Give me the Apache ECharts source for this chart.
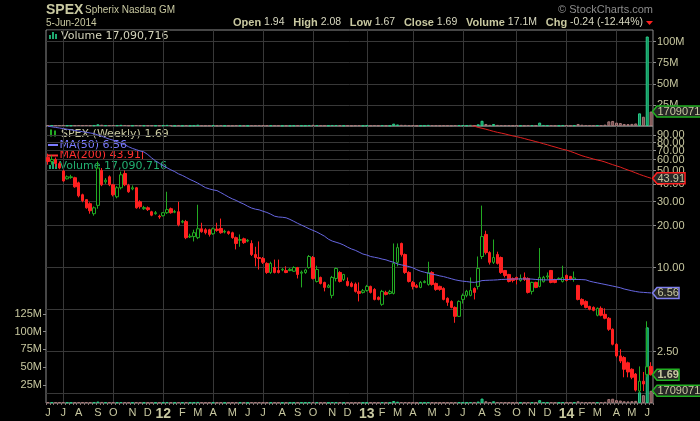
<!DOCTYPE html>
<html><head><meta charset="utf-8">
<script src="https://cdn.jsdelivr.net/npm/echarts@6/dist/echarts.min.js"></script>
<style>html,body{margin:0;padding:0;background:#000;}#c{width:700px;height:421px;}</style>
</head><body><div id="c"></div>
<script>
// ---------- data ----------
const firstWeekMonday = '2011-06-06';
const weekCount = 158;
const opens = [62,58,60,56,49.5,43.5,44.5,44.3,40.7,33.4,
30.8,28.8,24.4,28,50,41.4,45,39.4,32.3,37.5,
47.5,39,36.8,37.5,29.7,26.5,26.9,25.2,24.4,23.4,
23.6,24.8,26.5,25,25.2,21.2,21.4,16.6,16.7,16.4,
19,18.7,18.7,17.5,18.9,19.1,18,18.1,17.8,16.4,
15.7,16.1,15.5,14.9,12.4,11.8,11.6,10.7,9.21,10,
9.52,9.6,9.5,9.5,9.4,10,9.1,9.2,10,11.8,
7.94,8.48,7.81,7.2,6.3,8.34,9.21,8.2,7.94,7.68,
7.6,6.73,6.6,6.84,7.31,6.95,6.1,5.43,6.62,6.5,
6.51,10.9,14.9,12.4,9.21,7.81,7.4,7.19,7.8,7.55,
9.21,7.68,7.31,7.07,6.0,5.7,5.16,4.45,5.89,6.3,
6.3,7.07,7.31,12,17.3,12.8,10.9,12.4,11.8,9.52,
8.91,8.34,8.48,8.07,8.48,8.34,6.73,7.81,7.31,7.9,
8.55,9.52,8.2,8.2,7.94,8.77,8.62,8.2,7.43,5.89,
5.7,5.25,5.16,4.53,5.08,4.6,4.31,3.59,2.80,2.31,
2.25,2.06,1.85,1.71,1.29,1.52,1.70,1.94];
const highs = [66,64,62,58,50.5,46,46.5,45,41.5,34,
31,29.5,27.5,58,52,44,46,40,38.5,49,
50,40,39,38,30.5,27.8,27.5,25.6,25.5,24,
25,35.1,27,26,29.7,22,22,17.5,18.7,28.3,
21,19.2,19,19.4,21,22.5,18.7,18.4,18.1,16.7,
17.3,16.4,16,15.7,14.1,15.4,11.9,10.9,11,11.4,
11.4,9.9,10.2,9.9,10.2,10.1,9.5,9.8,12.3,12.1,
10.3,8.6,7.9,7.6,8.7,10,9.4,9.0,8.48,7.9,
7.8,7.81,7.0,7.5,7.4,7.1,6.2,6.9,6.8,6.9,
14.9,14.9,15.1,12.6,9.4,8.0,7.6,8.0,8.1,11,
9.4,7.8,7.4,7.2,6.1,5.8,5.25,5.8,6.5,6.9,
8.48,7.19,12,27.9,18.4,13.1,15.9,13,12,9.6,
9.0,8.48,8.6,8.91,9.21,8.5,7.9,7.9,13.8,8.7,
9.21,9.6,8.3,8.5,10.3,8.91,8.7,9.36,7.5,6.0,
5.8,5.3,5.25,5.16,5.25,5.08,4.4,3.65,2.85,2.58,
2.3,2.1,1.88,1.74,1.94,1.77,4.1,2.08];
const lows = [55,55,53,51,41.5,43,43.5,37.5,32,29.5,
26.5,24.4,23.6,26.5,38.5,40,38.5,32.5,31.5,36.5,
38.5,34.5,36,26.5,26.5,26,25.5,23.4,24,22.4,
23.3,24.3,24.4,24.6,19.8,20.8,16,16.3,15.4,16,
17.8,17.3,16.7,17.2,18.1,17.5,17.6,17.2,16.1,13.5,
14.1,14.8,15.2,12.1,10.2,9.67,10.6,9.0,9.0,9.06,
9.06,9.4,9.1,9.4,9.3,8.34,7.19,9.0,9.8,8.2,
7.8,7.55,6.73,7.1,6.0,7.94,7.8,8.0,7.3,7.2,
6.6,5.7,6.5,6.7,6.5,5.8,5.8,5.3,6.3,6.4,
6.4,10.2,12,9.0,7.8,6.95,7.1,7.1,7.7,7.4,
7.4,6.8,6.8,5.8,5.3,5.08,4.0,4.4,5.5,6.1,
6.2,5.89,6.95,11.5,12.4,10.5,10.6,10.5,9.0,8.48,
7.81,7.81,7.55,7.9,8.0,6.5,6.4,7.1,7.2,7.8,
8.2,7.7,7.7,8.1,7.8,7.94,8.1,7.9,5.8,5.3,
5.08,4.92,4.84,4.45,4.45,4.24,3.5,2.75,2.25,2.05,
1.62,1.62,1.57,1.28,1.26,1.29,1.62,1.67];
const closes = [58,60,56,52,42,45,45,38.1,32.8,30.3,
26.9,25.6,26.9,52,39.4,42.5,39.4,33.4,37.5,46.5,
39.4,35.1,37.5,26.9,27.4,27,26.1,23.8,24.8,23.1,
24.8,26.1,24.8,25.3,20.3,21.5,16.4,16.8,17.8,19.0,
18.1,17.8,17.3,19,18.5,17.8,18.2,17.6,16.4,14.9,
15.9,15.1,15.7,12.4,11.8,11.6,10.9,9.21,10.7,9.21,
9.21,9.7,9.2,9.7,10,8.91,9.25,9.6,12,8.34,
9.67,7.68,7.19,7.4,8.48,9.84,7.94,8.91,7.43,7.31,
6.73,6.51,6.8,7.31,6.62,5.89,5.89,6.73,6.4,6.7,
10.7,13.9,12.4,9.21,7.94,7.31,7.2,7.81,7.94,9.21,
7.55,6.95,6.95,5.89,5.61,5.16,4.45,5.7,6.3,6.73,
6.84,6.62,9.84,16.7,12.8,10.9,11.8,10.7,9.21,8.77,
7.94,8.07,8.2,8.34,8.2,6.62,7.81,7.19,8.48,8.5,
8.7,7.81,7.81,8.34,8.48,8.07,8.2,8.4,5.89,5.43,
5.16,5.0,4.92,5.08,4.53,4.31,3.59,2.80,2.31,2.12,
1.85,1.77,1.62,1.31,1.52,1.45,1.93,1.69];
const volumesM = [1.2,1.0,0.9,1.1,1.3,0.8,0.7,0.9,1.2,1.0,
1.1,0.9,0.8,2.0,1.5,0.9,1.0,1.1,0.9,1.4,
1.2,0.8,0.7,1.1,0.9,0.7,0.8,0.8,0.6,0.7,
0.8,1.3,0.9,0.7,1.2,0.8,1.1,0.7,0.8,1.5,
0.9,0.7,0.8,0.9,0.8,1.1,0.6,0.7,0.8,1.0,
0.9,0.8,0.6,1.1,1.0,1.2,0.8,1.0,0.9,0.8,
0.8,0.6,0.7,0.6,0.8,0.9,0.8,0.7,1.2,1.4,
1.1,0.9,0.8,0.6,1.2,1.1,0.9,0.7,0.8,0.6,
0.8,0.9,0.6,0.7,0.8,1.0,0.7,1.1,0.7,0.6,
2.8,1.8,1.4,1.3,1.0,0.8,0.6,0.7,0.6,1.3,
1.0,0.8,0.7,0.9,0.8,0.7,1.0,1.1,0.9,0.8,
1.3,1.0,2.0,6.2,2.4,1.4,2.4,1.3,1.2,0.9,
1.0,0.8,0.7,0.8,0.7,1.2,1.0,0.8,4.0,1.2,
0.9,1.1,0.8,0.7,1.2,1.0,0.8,0.9,2.4,1.5,
1.2,1.0,0.9,1.0,1.1,1.6,5.5,6.0,4.0,3.5,
2.4,2.2,2.5,3.0,15.0,11.0,106.0,17.090716];
const ma50 = [104,103,102,101,100,99,98,97,96,95,
94,93,92,90,88,86,84,82.5,80.5,78.5,
76.5,74,72,70.5,69,67.9,65,61.5,58.6,56.3,
54.0,52.2,50.5,49,47.2,46,44.5,43,41.8,40.5,
39,37.6,36.8,36.2,35.8,34.6,33.4,32.2,31.2,30.4,
29.4,28.6,27.6,26.8,26.3,26.0,25.4,24.9,24.2,23.4,
23.1,23.0,22.8,22.2,21.5,20.8,20.2,19.6,19.0,18.5,
18.0,17.4,16.8,16.0,15.5,15.2,14.9,14.5,14.0,13.6,
13.3,12.9,12.5,12.3,12.0,11.85,11.7,11.5,11.35,11.1,
10.9,10.6,10.45,10.3,10.15,9.95,9.65,9.41,9.25,9.1,
8.95,8.85,8.7,8.6,8.45,8.3,8.15,8.05,7.97,7.92,
7.85,7.81,7.9,8.05,8.08,8.1,8.12,8.15,8.2,8.22,
8.24,8.26,8.27,8.27,8.27,8.27,8.25,8.2,8.17,8.15,
8.14,8.16,8.18,8.2,8.2,8.2,8.2,8.2,8.2,8.18,
8.15,7.97,7.85,7.75,7.65,7.55,7.45,7.35,7.25,7.15,
7.0,6.9,6.8,6.72,6.65,6.62,6.59,6.56];
const ma200Start = 105;
const ma200 = [120,117,114,111,108.5,106,104,102,100.5,99,
97.2,95.5,94,92.8,91.5,90,88.6,87.5,86.2,84.8,
83.3,82,80.6,79.3,77.8,76.5,75,73.7,72.3,71,
70,68.5,67,65.3,63.8,62.6,61.5,60.4,59.4,58.6,
57.5,56.2,55,53.9,52.8,51.5,50.3,49.2,48,46.8,
45.8,44.8,43.91];
const priceGridValues = [1.25, 2.5, 5, 10, 20, 30, 40, 50, 60, 70, 80, 90];
const priceLabelValues = [1.25, 2.5, 10, 20, 30, 40, 50, 60, 70, 80, 90];
const volTopLabels = [25, 50, 75, 100];
const volMainLabels = [25, 50, 75, 100, 125];
const monthLetters = ['J','F','M','A','M','J','J','A','S','O','N','D'];

// ---------- derived ----------
const weeks = [];
{
  const d0 = new Date(firstWeekMonday + 'T00:00:00Z').getTime();
  for (let i = 0; i < weekCount; i++) weeks.push(new Date(d0 + i * 7 * 86400000).toISOString().slice(0, 10));
}
const monthOf = s => +s.slice(5, 7) - 1;
const labelIdx = new Set(), quarterIdx = [];
weeks.forEach((w, i) => {
  if (i === 0 || monthOf(w) !== monthOf(weeks[i - 1])) {
    labelIdx.add(i);
    if (i > 0 && monthOf(w) % 3 === 0) quarterIdx.push(i);
  }
});
const last = weekCount - 1;
const up = i => closes[i] >= opens[i];
const KHAKI = '#c8c8a0', GRIDC = '#383838', BORDER = '#8c8c8c';
const UPC = '#22aa22', DNC = '#ff2020';
const volItem = (i) => ({
  value: volumesM[i],
  itemStyle: up(i) ? { color: '#0c8a5c', borderColor: '#2ccf8a', borderWidth: 1 }
                   : { color: '#6e4848', borderColor: '#a87a7a', borderWidth: 1 }
});
const ohlc = opens.map((o, i) => [o, closes[i], lows[i], highs[i]]);
const ma200Data = ma200.map((v, k) => [weeks[ma200Start + k], v]);

const AX = '"Liberation Sans", Arial, sans-serif';
const LG = '"DejaVu Sans", Verdana, sans-serif';

const chart = echarts.init(document.getElementById('c'), null, { renderer: 'canvas' });
const gridMark = (ydata) => ({
  silent: true, symbol: ['none', 'none'], z: 1, animation: false,
  label: { show: false }, emphasis: { disabled: true },
  lineStyle: { color: GRIDC, width: 1, type: 'solid' },
  data: ydata.map(v => ({ yAxis: v })).concat(quarterIdx.map(i => ({ xAxis: weeks[i] })))
});
const yLabel = (vals, fmt) => ({ customValues: vals, formatter: fmt, color: KHAKI, fontFamily: AX, fontSize: 11, margin: 4,
  showMinLabel: true, showMaxLabel: true, hideOverlap: false });

chart.setOption({
  backgroundColor: '#000',
  animation: false,
  grid: [
    { left: 46, right: 47, top: 30, height: 96, show: true, borderColor: BORDER, borderWidth: 1 },
    { left: 46, right: 47, top: 126, height: 278, show: true, borderColor: BORDER, borderWidth: 1 }
  ],
  xAxis: [
    { type: 'category', gridIndex: 0, data: weeks, axisLine: { show: false }, axisTick: { show: false },
      axisLabel: { show: false }, splitLine: { show: false } },
    { type: 'category', gridIndex: 1, data: weeks, axisLine: { show: false },
      axisTick: { show: true, interval: 0, length: 2, lineStyle: { color: '#8a7272' } },
      axisLabel: {
        interval: (idx) => labelIdx.has(idx),
        formatter: (val) => { const m = monthOf(val); return m === 0 ? '{yr|' + val.slice(2, 4) + '}' : monthLetters[m]; },
        color: KHAKI, fontFamily: AX, fontSize: 11, margin: 4,
        rich: { yr: { fontWeight: 'bold', fontSize: 14, color: KHAKI, fontFamily: AX } }
      },
      splitLine: { show: false } }
  ],
  yAxis: [
    { type: 'value', gridIndex: 0, position: 'right', min: 0, max: 113.7,
      axisLine: { show: false }, splitLine: { show: false },
      axisTick: { show: true, customValues: volTopLabels, length: 3, lineStyle: { color: BORDER } },
      axisLabel: yLabel(volTopLabels, v => v + 'M') },
    { type: 'log', logBase: 10, gridIndex: 1, position: 'right', min: 1.058, max: 104.4,
      axisLine: { show: false }, splitLine: { show: false },
      axisTick: { show: true, customValues: priceLabelValues, length: 3, lineStyle: { color: BORDER } },
      axisLabel: { show: false } },
    { type: 'value', gridIndex: 1, position: 'left', min: 0, max: 388,
      axisLine: { show: false }, splitLine: { show: false },
      axisTick: { show: true, customValues: volMainLabels, length: 3, lineStyle: { color: BORDER } },
      axisLabel: yLabel(volMainLabels, v => v + 'M') }
  ],
  series: [
    { type: 'bar', xAxisIndex: 0, yAxisIndex: 0, barWidth: 3, z: 2,
      data: volumesM.map((v, i) => volItem(i)), markLine: gridMark(volTopLabels) },
    { type: 'bar', xAxisIndex: 1, yAxisIndex: 2, barWidth: 3, z: 2,
      data: volumesM.map((v, i) => volItem(i)) },
    { type: 'candlestick', xAxisIndex: 1, yAxisIndex: 1, barWidth: 3, z: 3, data: ohlc,
      itemStyle: { color: '#000', color0: DNC, borderColor: UPC, borderColor0: DNC, borderWidth: 1 },
      markLine: gridMark(priceGridValues) },
    { type: 'line', xAxisIndex: 1, yAxisIndex: 1, data: ma50, showSymbol: false, symbol: 'none', z: 4,
      lineStyle: { color: '#6666e0', width: 1 } },
    { type: 'line', xAxisIndex: 1, yAxisIndex: 1, data: ma200Data, showSymbol: false, symbol: 'none', z: 4,
      lineStyle: { color: '#e02020', width: 1 } }
  ]
});

// ---------- texts, legend, value tags ----------
const mctx = document.createElement('canvas').getContext('2d');
const textW = (t, font) => { mctx.font = font; return mctx.measureText(t).width; };
const volShares = Math.round(volumesM[last] * 1e6);
const chg = closes[last] - closes[last - 1];
const pct = chg / closes[last - 1] * 100;
const G = [];
G.push({ type: 'text', x: 46, y: 3, style: { text: 'SPEX', fill: KHAKI, font: 'bold 14px ' + AX } });
G.push({ type: 'text', x: 85, y: 5, style: { text: 'Spherix Nasdaq GM', fill: KHAKI, font: '10px ' + AX } });
G.push({ type: 'text', x: 46, y: 18, style: { text: '5-Jun-2014', fill: KHAKI, font: '10px ' + AX } });
G.push({ type: 'text', x: 653, y: 4, style: { text: '\u00A9 StockCharts.com', fill: '#8c8c8c', font: '11px ' + AX, align: 'right' } });
G.push({ type: 'text', x: 643, y: 17, style: {
  text: '{b|Open} {v|' + opens[last].toFixed(2) + '}   {b|High} {v|' + highs[last].toFixed(2) + '}   {b|Low} {v|' + lows[last].toFixed(2) +
        '}   {b|Close} {v|' + closes[last].toFixed(2) + '}   {b|Volume} {v|' + volumesM[last].toFixed(1) + 'M}   {b|Chg} {v|' +
        chg.toFixed(2) + ' (' + pct.toFixed(2) + '%)}',
  align: 'right', fill: KHAKI, font: '10.5px ' + AX,
  rich: { b: { font: 'bold 11px ' + AX, fill: KHAKI }, v: { font: '10.5px ' + AX, fill: '#d8d8c0' } } } });
G.push({ type: 'polygon', shape: { points: [[646, 21], [653, 21], [649.5, 25]] }, style: { fill: DNC } });

// price axis labels (log scale positions from the axis)
priceLabelValues.forEach(v => {
  const y = chart.convertToPixel({ yAxisIndex: 1 }, v);
  G.push({ type: 'text', x: 657, y: y + 0.5, style: { text: v.toFixed(2), fill: KHAKI, font: '11px ' + AX, verticalAlign: 'middle' } });
});

const LGF = '11px ' + LG;
// top panel legend
{
  const t = 'Volume ' + volShares.toLocaleString('en-US');
  G.push({ type: 'rect', shape: { x: 47, y: 30.5, width: 61 - 47 + textW(t, LGF) + 1, height: 12 }, style: { fill: '#000' } });
  G.push({ type: 'text', x: 61, y: 36, style: { text: t, fill: '#d4d4bc', font: LGF, verticalAlign: 'middle' } });
  [[49, 35, 2, 4], [52, 32, 2, 7], [55, 34, 2, 5]].forEach(r =>
    G.push({ type: 'rect', shape: { x: r[0], y: r[1], width: r[2], height: r[3] }, style: { fill: '#1fa870' } }));
}
// main legend
const lgLines = [
  { y: 133.7, top: 126.5, bot: 139.3, x: 61, text: 'SPEX (Weekly) ' + closes[last].toFixed(2), color: KHAKI },
  { y: 145, top: 139.3, bot: 150.1, x: 59.5, text: 'MA(50) ' + ma50[last].toFixed(2), color: '#7c7cff' },
  { y: 155.3, top: 150.1, bot: 160.5, x: 59.5, text: 'MA(200) ' + ma200[ma200.length - 1].toFixed(2), color: '#ff3030' },
  { y: 165.7, top: 160.5, bot: 171, x: 59.5, text: 'Volume ' + volShares.toLocaleString('en-US'), color: '#22b070' }
];
lgLines.forEach(l => {
  const w = textW(l.text, LGF);
  l.right = l.x + w;
  G.push({ type: 'rect', shape: { x: 47, y: l.top, width: l.x + w + 2 - 47, height: l.bot - l.top }, style: { fill: '#000' } });
  G.push({ type: 'text', x: l.x, y: l.y, style: { text: l.text, fill: l.color, font: LGF, verticalAlign: 'middle' } });
});
G.push({ type: 'rect', shape: { x: 50, y: 130, width: 2, height: 5 }, style: { fill: UPC } });
G.push({ type: 'rect', shape: { x: 50.5, y: 129, width: 1, height: 8 }, style: { fill: UPC } });
G.push({ type: 'rect', shape: { x: 54, y: 131, width: 2, height: 4 }, style: { fill: UPC } });
G.push({ type: 'rect', shape: { x: 54.5, y: 130, width: 1, height: 7 }, style: { fill: UPC } });
G.push({ type: 'rect', shape: { x: 48, y: 144, width: 10, height: 2 }, style: { fill: '#7c7cff' } });
G.push({ type: 'rect', shape: { x: 48, y: 154.5, width: 10, height: 2 }, style: { fill: '#ff3030' } });
G.push({ type: 'rect', shape: { x: Math.round(lgLines[2].right) + 1, y: 151, width: 1, height: 9 }, style: { fill: '#ff3030' } });
[[49, 165, 2, 4], [52, 162, 2, 7], [55, 164, 2, 5]].forEach(r =>
  G.push({ type: 'rect', shape: { x: r[0], y: r[1], width: r[2], height: r[3] }, style: { fill: '#1fa870' } }));

// value tags on right axis
function tag(y, text, stroke, bold, w) {
  const x0 = 652.5, h = 11;
  G.push({ type: 'polygon', z: 100, shape: { points: [[x0, y], [x0 + 4.5, y - h / 2], [x0 + 4.5 + w, y - h / 2], [x0 + 4.5 + w, y + h / 2], [x0 + 4.5, y + h / 2]] },
    style: { fill: '#262626', stroke: stroke, lineWidth: 1.5 } });
  G.push({ type: 'text', z: 101, x: x0 + 5, y: y + 0.5, style: { text: text, fill: KHAKI, font: (bold ? 'bold ' : '') + '11px ' + AX, verticalAlign: 'middle' } });
}
const yMA200 = chart.convertToPixel({ yAxisIndex: 1 }, ma200[ma200.length - 1]);
const yMA50 = chart.convertToPixel({ yAxisIndex: 1 }, ma50[last]);
const yClose = chart.convertToPixel({ yAxisIndex: 1 }, closes[last]);
const yVolMain = chart.convertToPixel({ yAxisIndex: 2 }, volumesM[last]);
const yVolTop = chart.convertToPixel({ yAxisIndex: 0 }, volumesM[last]);
tag(yMA200, ma200[ma200.length - 1].toFixed(2), '#ff2020', false, 28);
tag(yMA50, ma50[last].toFixed(2), '#8080f0', false, 22);
tag(yVolMain, String(volShares), '#22b022', false, 52);
tag(yClose, closes[last].toFixed(2), '#22b022', true, 22);
tag(yVolTop, String(volShares), '#22b022', false, 52);

chart.setOption({ graphic: G });
</script>
</body></html>
